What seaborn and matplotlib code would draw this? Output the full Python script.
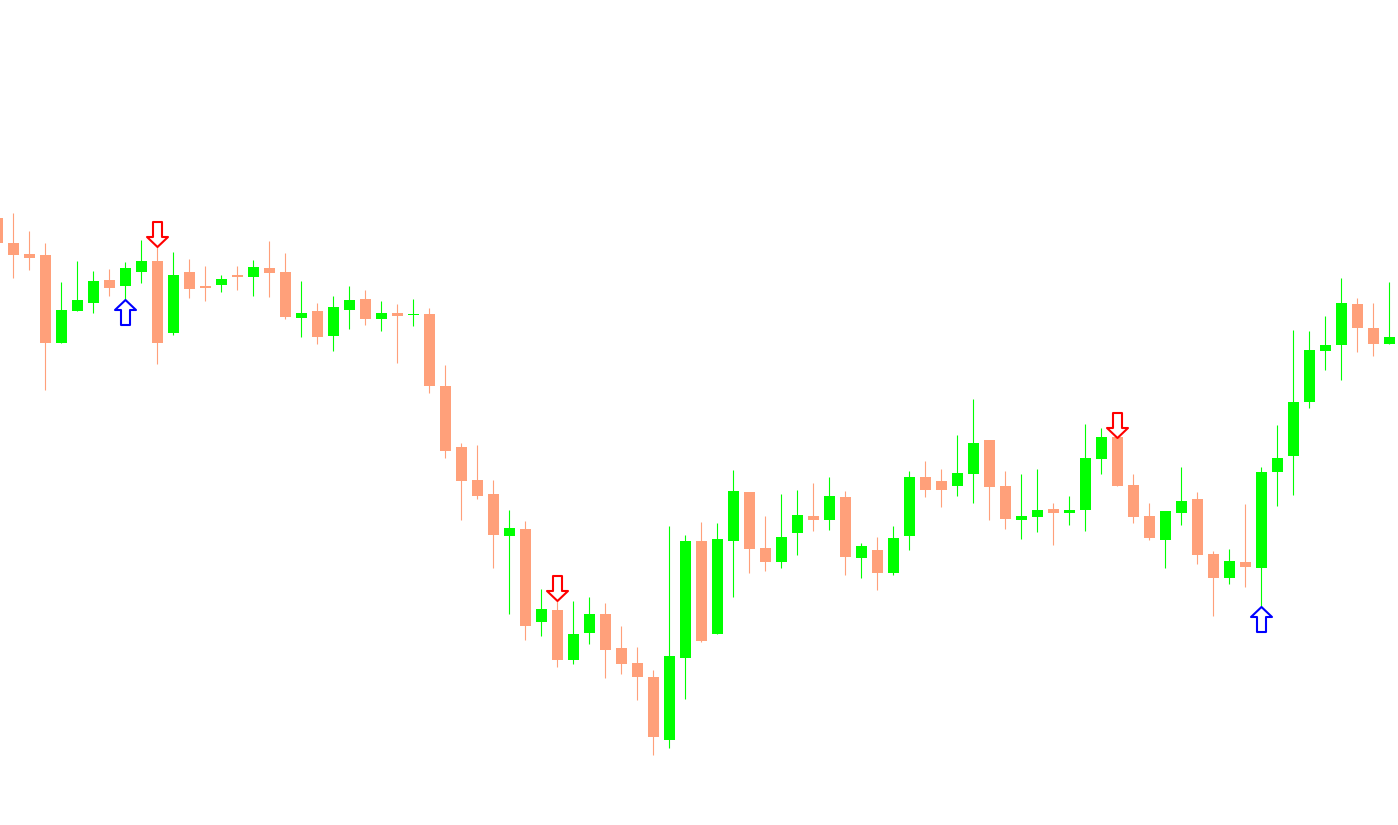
import numpy as np
import pandas as pd
import matplotlib.pyplot as plt
from matplotlib.path import Path
import seaborn as sns

# =====================================
# Data (price levels)
# =====================================
opens = [782, 757, 746, 745, 657, 689, 697, 720, 714, 728,
         739, 667, 728, 714, 715, 725, 723, 732, 728, 682,
         689, 664, 690, 701, 681, 687, 685, 686, 614, 553,
         520, 506, 464, 471, 378, 390, 340, 367, 386, 352,
         337, 323, 260, 342, 459, 366, 459, 508, 452, 438,
         467, 484, 480, 503, 442, 450, 427, 464, 523, 519,
         514, 526, 560, 514, 480, 483, 491, 487, 490, 541,
         563, 515, 484, 460, 487, 501, 446, 422, 438, 432,
         528, 544, 598, 649, 655, 696, 672, 656]
highs = [784, 787, 769, 757, 718, 739, 729, 731, 738, 760,
         765, 748, 741, 734, 725, 734, 740, 759, 747, 719,
         697, 704, 714, 710, 699, 696, 701, 692, 635, 557,
         555, 520, 490, 479, 411, 411, 399, 403, 397, 374,
         353, 330, 474, 465, 478, 477, 530, 508, 484, 506,
         510, 517, 523, 509, 457, 463, 474, 529, 539, 531,
         565, 601, 560, 529, 526, 531, 497, 504, 576, 572,
         575, 526, 497, 489, 533, 508, 449, 451, 496, 533,
         575, 670, 669, 684, 722, 702, 697, 718]
lows = [755, 722, 730, 610, 657, 689, 687, 704, 687, 717,
        636, 665, 702, 699, 708, 710, 704, 703, 681, 663,
        656, 649, 671, 675, 669, 637, 674, 607, 542, 480,
        501, 432, 386, 360, 364, 333, 336, 356, 322, 326,
        300, 245, 252, 301, 358, 366, 403, 427, 429, 432,
        445, 469, 470, 425, 422, 410, 425, 450, 503, 493,
        504, 497, 480, 471, 461, 468, 455, 475, 469, 526,
        514, 477, 460, 432, 475, 436, 384, 416, 413, 380,
        494, 505, 592, 630, 620, 648, 644, 656]
closes = [757, 745, 742, 657, 690, 700, 719, 712, 732, 739,
          657, 725, 711, 712, 721, 723, 733, 727, 683, 687,
          663, 693, 700, 681, 687, 684, 686, 614, 549, 519,
          504, 465, 472, 374, 391, 340, 366, 386, 350, 336,
          323, 263, 344, 459, 359, 461, 509, 451, 438, 463,
          485, 480, 504, 443, 454, 427, 462, 523, 510, 510,
          527, 557, 513, 481, 484, 490, 487, 490, 542, 563,
          514, 483, 462, 489, 499, 445, 422, 439, 433, 528,
          542, 598, 650, 655, 697, 672, 656, 663]

# signal arrows: bar index and level of the arrow centre
sell_idx = [10, 35, 70]
sell_level = [766.5, 412.5, 575.5]
buy_idx = [8, 79]
buy_level = [688.5, 381.5]

UP_COLOR = "#00FF00"
DOWN_COLOR = "#FFA07A"

df = pd.DataFrame({"open": opens, "high": highs, "low": lows, "close": closes})
df["x"] = np.arange(len(df))
df["color"] = np.where(df["close"] >= df["open"], UP_COLOR, DOWN_COLOR)

# =====================================
# Arrow markers
# =====================================
W, SW, H, HH = 10.5, 4.5, 12.5, 10.0
down_verts = [(-SW, H), (SW, H), (SW, -H + HH), (W, -H + HH), (0, -H),
              (-W, -H + HH), (-SW, -H + HH), (-SW, H)]
down_arrow = Path(down_verts, closed=True)
up_arrow = Path([(vx, -vy) for vx, vy in down_verts], closed=True)

# =====================================
# Plot
# =====================================
sns.set_style("white")
fig = plt.figure(figsize=(13.98, 8.25), dpi=100)
ax = fig.add_axes([0, 0, 1, 1])

ax.vlines(df["x"], df["low"], df["high"], colors=df["color"], linewidth=0.8, zorder=1)
body_bottom = df[["open", "close"]].min(axis=1)
body_height = (df["close"] - df["open"]).abs().clip(lower=1.5)
ax.bar(df["x"], body_height, bottom=body_bottom, width=0.69,
       color=df["color"], linewidth=0, zorder=2)

ax.scatter(sell_idx, sell_level, marker=down_arrow, s=324, facecolor="white",
           edgecolor="#FF0000", linewidth=1.5, zorder=3)
ax.scatter(buy_idx, buy_level, marker=up_arrow, s=324, facecolor="white",
           edgecolor="#0000FF", linewidth=1.5, zorder=3)

ax.set_xlim(0.169, 87.54)
ax.set_ylim(175, 1000)
ax.axis("off")

fig.savefig("out.png", dpi=100)
